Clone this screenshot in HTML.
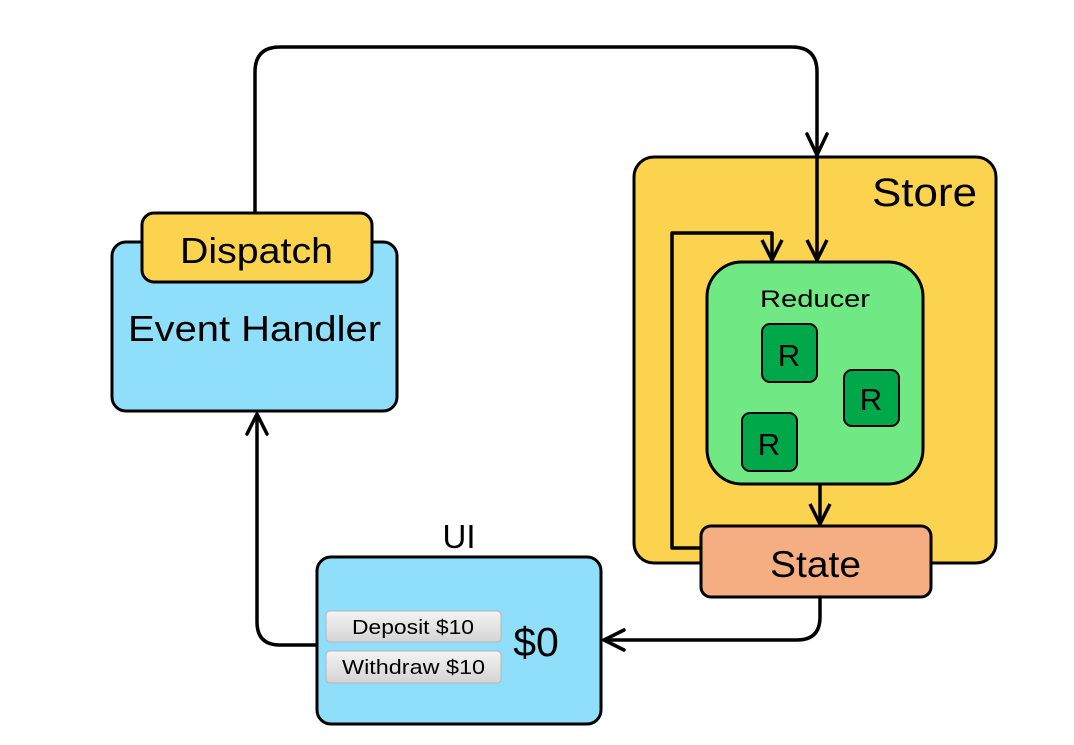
<!DOCTYPE html>
<html><head><style>body{margin:0;background:#fff}svg{display:block}text{font-family:"Liberation Sans",sans-serif}</style></head><body>
<svg width="1074" height="745" viewBox="0 0 1074 745">
<g fill="none" stroke="#000" stroke-width="3.5" stroke-linecap="round" stroke-linejoin="round">
<path d="M255 213 V72 Q255 47 280 47 H792 Q817 47 817 72 V262"/>
<path d="M807 134 L817 155 L827 134"/>
</g>
<rect x="634" y="157" width="362" height="406" rx="20" fill="#fcd34f" stroke="#000" stroke-width="3"/>
<text x="872" y="206" font-size="40" textLength="105" lengthAdjust="spacingAndGlyphs">Store</text>
<g fill="none" stroke="#000" stroke-width="3.5" stroke-linejoin="round">
<path d="M701 548 H672 V233 H772 V260"/>
<path d="M762 240 L772 260 L782 240"/>
<path d="M817 155 V260"/>
<path d="M807 240 L817 260 L827 240"/>
<path d="M820 484 V524"/>
<path d="M810 504 L820 524 L830 504"/>
</g>
<rect x="707" y="262" width="216" height="222" rx="35" fill="#70e883" stroke="#000" stroke-width="3"/>
<text x="760" y="307" font-size="24" textLength="110" lengthAdjust="spacingAndGlyphs">Reducer</text>
<g fill="#00a84a" stroke="#000" stroke-width="2">
<rect x="762" y="324" width="55" height="58" rx="8"/>
<rect x="844" y="370" width="55" height="56" rx="8"/>
<rect x="742" y="413" width="55" height="58" rx="8"/>
</g>
<g font-size="31" text-anchor="middle"><text x="789" y="366">R</text><text x="871" y="410">R</text><text x="769" y="455">R</text></g>
<rect x="701" y="526" width="230" height="71" rx="10" fill="#f4ae82" stroke="#000" stroke-width="3"/>
<text x="770" y="577" font-size="37" textLength="91" lengthAdjust="spacingAndGlyphs">State</text>
<g fill="none" stroke="#000" stroke-width="3.5" stroke-linejoin="round" stroke-linecap="round">
<path d="M820 597 V617 Q820 640 797 640 H605"/>
<path d="M624 630 L604 640 L624 650"/>
<path d="M317 645 H280 Q257 645 257 622 V415"/>
<path d="M247 434 L257 414 L267 434"/>
</g>
<rect x="112" y="242" width="285" height="169" rx="14" fill="#8fdffb" stroke="#000" stroke-width="3"/>
<rect x="142" y="213" width="230" height="69" rx="12" fill="#fcd34f" stroke="#000" stroke-width="3"/>
<text x="180" y="263" font-size="36" textLength="153" lengthAdjust="spacingAndGlyphs">Dispatch</text>
<text x="128" y="341" font-size="36" textLength="253" lengthAdjust="spacingAndGlyphs">Event Handler</text>
<text x="459" y="548" font-size="33" text-anchor="middle">UI</text>
<rect x="317" y="557" width="284" height="167" rx="14" fill="#8fdffb" stroke="#000" stroke-width="3"/>
<defs><linearGradient id="g" x1="0" y1="0" x2="0" y2="1"><stop offset="0" stop-color="#f4f4f4"/><stop offset="1" stop-color="#d4d4d4"/></linearGradient></defs>
<rect x="326" y="611" width="175" height="31" rx="4" fill="url(#g)" stroke="#b5b5b5"/>
<rect x="326" y="651" width="175" height="32" rx="4" fill="url(#g)" stroke="#b5b5b5"/>
<text x="352" y="634" font-size="20" textLength="122" lengthAdjust="spacingAndGlyphs">Deposit $10</text>
<text x="342" y="674" font-size="20" textLength="143" lengthAdjust="spacingAndGlyphs">Withdraw $10</text>
<text x="536" y="656" font-size="41" text-anchor="middle">$0</text>
</svg>
</body></html>
